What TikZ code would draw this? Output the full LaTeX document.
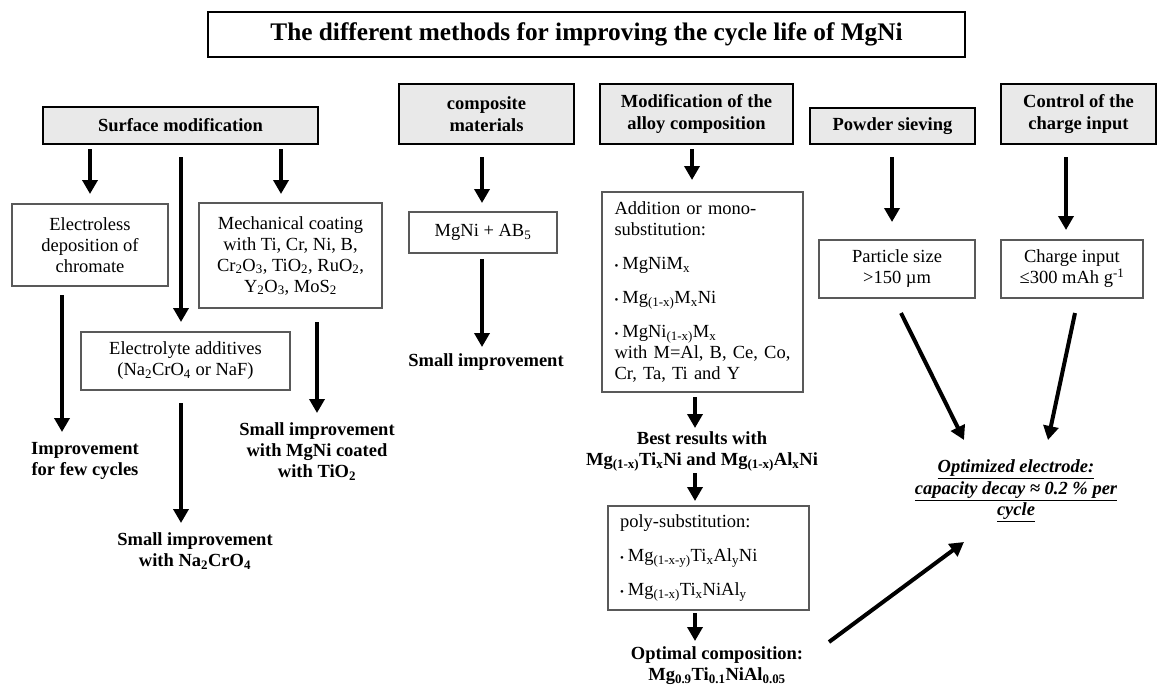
\documentclass[tikz,border=0pt]{standalone}
\usepackage{fontspec}
\setmainfont{Liberation Serif}
\usetikzlibrary{arrows.meta}
\newcommand{\tsub}[1]{\textsubscript{#1}}
\newcommand{\tsup}[1]{\textsuperscript{#1}}
\newcommand{\bul}{{\fontsize{11}{11}\selectfont\textbullet}\hspace{4pt}}
\begin{document}
\begin{tikzpicture}[x=1pt,y=-1pt,
  every node/.style={inner sep=0pt, outer sep=0pt},
  titlebox/.style={draw=black, line width=2pt, align=center, font=\fontsize{25.3}{28}\selectfont\bfseries},
  head/.style={draw=black, line width=2.2pt, fill=gray!17, align=center, font=\fontsize{18.5}{21.5}\selectfont\bfseries},
  wbox/.style={draw=black!65, line width=1.3pt, align=center, font=\fontsize{18.5}{21}\selectfont},
  lbl/.style={align=center, anchor=north, font=\fontsize{18.5}{21}\selectfont\bfseries},
  arr/.style={line width=4pt, -{Triangle[width=15pt,length=14pt]}}
]
\useasboundingbox (0,0) rectangle (1158,686);

% title
\node[titlebox, minimum width=757pt, minimum height=45pt] (title) at (586.5,34.5)
  {The different methods for improving the cycle life of MgNi};

% headers
\node[head, minimum width=275pt, minimum height=37pt] (surf) at (180.5,125.5) {Surface modification};
\node[head, minimum width=175pt, minimum height=60pt] (comp) at (486.5,114) {composite\\materials};
\node[head, minimum width=193pt, minimum height=60pt] (modif) at (696.5,114) {Modification of the\\alloy composition};
\node[head, minimum width=165pt, minimum height=36pt] (powder) at (892.5,126) {Powder sieving};
\node[head, minimum width=155pt, minimum height=60pt] (control) at (1078.5,114) {Control of the\\charge input};

% white boxes
\node[wbox, minimum width=156pt, minimum height=82pt] (el) at (90,245)
  {Electroless\\deposition of\\chromate};
\node[wbox, minimum width=183pt, minimum height=105pt] (mech) at (290.5,255.5)
  {Mechanical coating\\with Ti, Cr, Ni, B,\\Cr\tsub{2}O\tsub{3}, TiO\tsub{2}, RuO\tsub{2},\\Y\tsub{2}O\tsub{3}, MoS\tsub{2}};
\node[wbox, minimum width=209pt, minimum height=58pt] (ely) at (185.5,361)
  {Electrolyte additives\\(Na\tsub{2}CrO\tsub{4} or NaF)};
\node[wbox, minimum width=148pt, minimum height=41pt] (mgab) at (483,232.5)
  {MgNi + AB\tsub{5}};
\node[wbox, align=left, text width=176pt, inner xsep=12.5pt, minimum height=200pt] (add) at (702.5,292)
  {Addition or mono-\\substitution:\\[13pt]\bul MgNiM\tsub{x}\\[13pt]\bul Mg\tsub{(1-x)}M\tsub{x}Ni\\[13pt]\bul MgNi\tsub{(1-x)}M\tsub{x}\\with M=Al, B, Ce, Co,\\Cr, Ta, Ti and Y};
\node[wbox, align=left, text width=177pt, inner xsep=12pt, minimum height=104pt] (poly) at (708.5,558)
  {poly-substitution:\\[13pt]\bul Mg\tsub{(1-x-y)}Ti\tsub{x}Al\tsub{y}Ni\\[13pt]\bul Mg\tsub{(1-x)}Ti\tsub{x}NiAl\tsub{y}};
\node[wbox, minimum width=156pt, minimum height=58pt] (part) at (897,269)
  {Particle size\\>150 µm};
\node[wbox, minimum width=142pt, minimum height=58pt] (charge) at (1072,269)
  {Charge input\\≤300 mAh g\tsup{-1}};

% result labels
\node[lbl] (imp1) at (85,442) {Improvement\\for few cycles};
\node[lbl] (imp2) at (195,533) {Small improvement\\with Na\tsub{2}CrO\tsub{4}};
\node[lbl] (imp3) at (317,423) {Small improvement\\with MgNi coated\\with TiO\tsub{2}};
\node[lbl] (imp4) at (486,354) {Small improvement};
\node[lbl] (best) at (702,432) {Best results with\\Mg\tsub{(1-x)}Ti\tsub{x}Ni and Mg\tsub{(1-x)}Al\tsub{x}Ni};
\node[lbl] (optc) at (717,647) {Optimal composition:\\Mg\tsub{0.9}Ti\tsub{0.1}NiAl\tsub{0.05}};
\node[lbl, font=\fontsize{18.5}{21.5}\selectfont\bfseries\itshape] (opt) at (1016,460)
  {\underline{Optimized electrode:}\\\underline{capacity decay ≈ 0.2 \% per}\\\underline{cycle}};

% arrows
\draw[arr] ([xshift=-90.5pt,yshift=-5pt]surf.south) -- ([yshift=10pt]el.north);
\draw[arr] ([xshift=0.5pt,yshift=-13pt]surf.south) -- ([xshift=-4.5pt,yshift=10pt]ely.north);
\draw[arr] ([xshift=100.5pt,yshift=-5pt]surf.south) -- ([xshift=-9.5pt,yshift=9pt]mech.north);
\draw[arr] ([xshift=-28pt,yshift=-9pt]el.south) -- ([xshift=-23pt,yshift=10pt]imp1.north);
\draw[arr] ([xshift=-4.5pt,yshift=-13pt]ely.south) -- ([xshift=-14pt,yshift=10pt]imp2.north);
\draw[arr] ([xshift=26.5pt,yshift=-14pt]mech.south) -- ([yshift=10pt]imp3.north);
\draw[arr] ([xshift=-4.5pt,yshift=-13pt]comp.south) -- ([xshift=-1pt,yshift=9pt]mgab.north);
\draw[arr] ([xshift=-1pt,yshift=-6pt]mgab.south) -- ([xshift=-4pt,yshift=7pt]imp4.north);
\draw[arr] ([xshift=-4.5pt,yshift=-5pt]modif.south) -- ([xshift=-10.5pt,yshift=12pt]add.north);
\draw[arr] ([xshift=-7.5pt,yshift=-5pt]add.south) -- ([xshift=-7pt,yshift=4pt]best.north);
\draw[arr] ([xshift=-7pt,yshift=-41pt]best.north) -- ([xshift=-13.5pt,yshift=5pt]poly.north);
\draw[arr] ([xshift=-13.5pt,yshift=-3pt]poly.south) -- ([xshift=-22pt,yshift=6pt]optc.north);
\draw[arr] ([xshift=-0.5pt,yshift=-13pt]powder.south) -- ([xshift=-5pt,yshift=18pt]part.north);
\draw[arr] ([xshift=-12.5pt,yshift=-13pt]control.south) -- ([xshift=-6pt,yshift=10pt]charge.north);
\draw[arr] ([xshift=4pt,yshift=-15pt]part.south) -- ([xshift=-52pt,yshift=20pt]opt.north);
\draw[arr] ([xshift=3pt,yshift=-15pt]charge.south) -- ([xshift=32pt,yshift=20pt]opt.north);
\draw[arr] ([xshift=112pt,yshift=5pt]optc.north) -- ([xshift=-52pt,yshift=-82pt]opt.north);
\end{tikzpicture}
\end{document}
